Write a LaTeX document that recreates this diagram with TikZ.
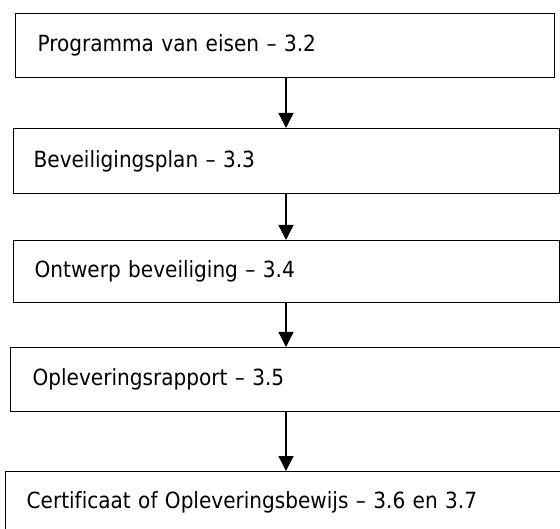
\documentclass[tikz,border=0pt]{standalone}
\usepackage{fontspec}
\setmainfont[Ligatures=NoCommon]{DejaVu Sans Condensed}
\usetikzlibrary{arrows.meta}

\begin{document}
\begin{tikzpicture}[x=1pt,y=-1pt]
      \tikzstyle{stage}=[rectangle,draw=black,line width=1.3pt,anchor=north west,
        align=left,inner xsep=0pt,inner ysep=0pt,font=\fontsize{22.3}{26}\selectfont]
      \tikzstyle{flow}=[line width=1.3pt,-{Triangle[width=15pt,length=15pt]}]

      \useasboundingbox (0,0) rectangle (560,529);
      \clip (0,0) rectangle (560,529);

      \coordinate (axis) at (286,0);

      \node[stage,minimum width=539pt,minimum height=64pt,text width=539pt]
        (pve) at (15,13){\hspace*{22pt}Programma van eisen – 3.2};
      \node[stage,minimum width=546pt,minimum height=65pt,text width=546pt]
        (bvp) at (13,128){\hspace*{20pt}Beveiligingsplan – 3.3};
      \node[stage,minimum width=546pt,minimum height=62pt,text width=546pt]
        (owb) at (13,240){\hspace*{21pt}Ontwerp beveiliging – 3.4};
      \node[stage,minimum width=570pt,minimum height=64pt,text width=570pt]
        (opr) at (10,347){\hspace*{22pt}Opleveringsrapport – 3.5};
      \node[stage,minimum width=570pt,minimum height=62pt,text width=570pt]
        (cob) at (5,471){\hspace*{21pt}Certificaat of Opleveringsbewijs – 3.6 en 3.7};

      \path[flow]
      (pve.south -| axis) edge (bvp.north -| axis)
      (bvp.south -| axis) edge (owb.north -| axis)
      (owb.south -| axis) edge (opr.north -| axis)
      (opr.south -| axis) edge (cob.north -| axis);
\end{tikzpicture}
\end{document}
